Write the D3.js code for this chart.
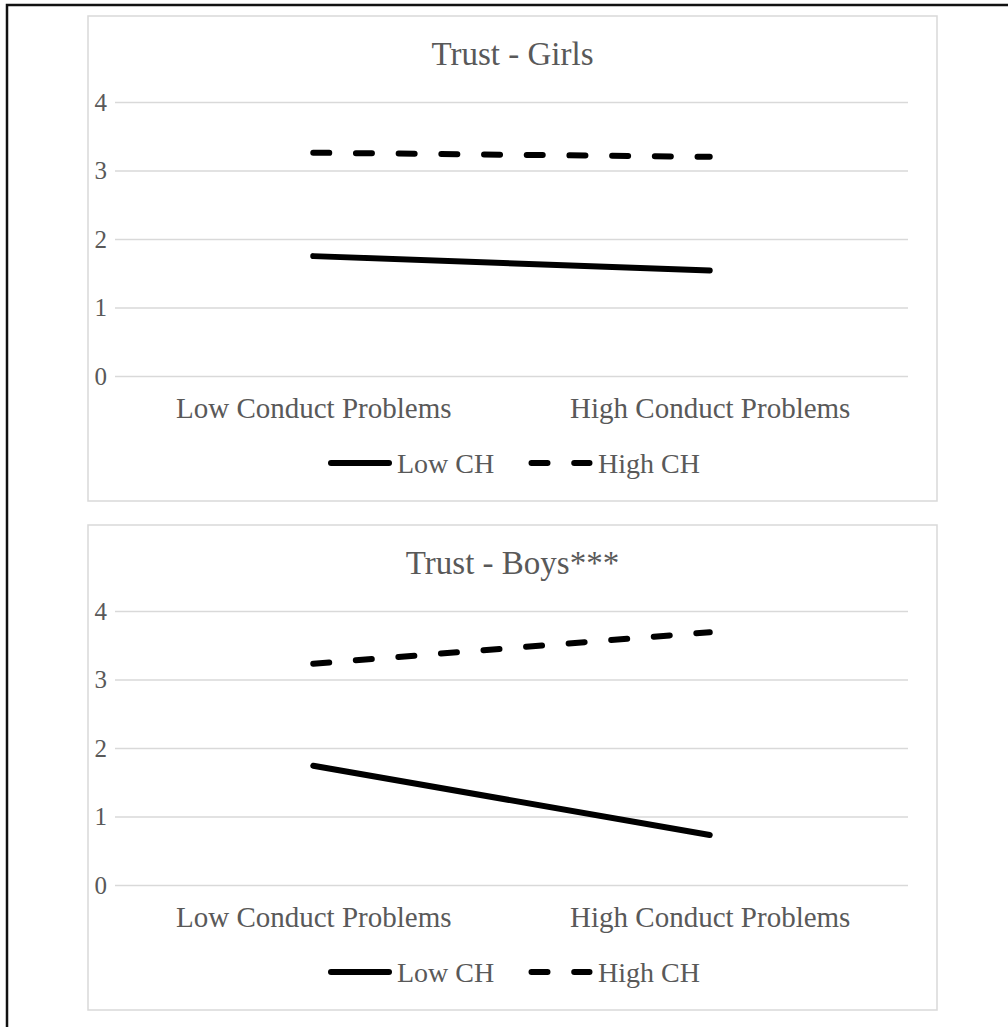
<!DOCTYPE html>
<html>
<head>
<meta charset="utf-8">
<script src="https://cdn.jsdelivr.net/npm/d3@7"></script>
<style>
  body { margin: 0; background: #fff; }
  text { font-family: "Liberation Serif", "Times New Roman", serif; fill: #595959; }
</style>
</head>
<body>
<div id="chart"></div>
<script>
// data
const categories = ["Low Conduct Problems", "High Conduct Problems"];
const yTicks = [0, 1, 2, 3, 4];
const seriesNames = ["Low CH", "High CH"];
const girlsLowCH = [1.75, 1.54];
const girlsHighCH = [3.26, 3.20];
const boysLowCH = [1.74, 0.73];
const boysHighCH = [3.23, 3.69];

const panels = [
  { title: "Trust - Girls", top: 16, low: girlsLowCH, high: girlsHighCH },
  { title: "Trust - Boys***", top: 525, low: boysLowCH, high: boysHighCH }
];

var W = 1008, H = 1027;
var panelLeft = 88, panelW = 849, panelH = 485;
var dash = "16,26.7";

const svg = d3.select("#chart")
  .append("svg")
  .attr("width", W)
  .attr("height", H);

// outer black frame (runs off the page on right/bottom)
svg.append("rect")
  .attr("x", 7).attr("y", 5)
  .attr("width", 1020).attr("height", 1040)
  .attr("fill", "none")
  .attr("stroke", "#111")
  .attr("stroke-width", 2.5);

// scales shared by both panels (panel-local coords)
var x = d3.scalePoint()
  .domain(categories)
  .range([27, 820])
  .padding(0.5);

var y = d3.scaleLinear()
  .domain([0, 4])
  .range([360, 86]);

function drawPanel(p) {
  var g = svg.append("g")
    .attr("transform", "translate(" + panelLeft + "," + p.top + ")");

  g.append("rect")
    .attr("x", 0).attr("y", 0)
    .attr("width", panelW).attr("height", panelH)
    .attr("fill", "#fff")
    .attr("stroke", "#d9d9d9")
    .attr("stroke-width", 1.5);

  g.append("text")
    .attr("x", panelW / 2)
    .attr("y", 49)
    .attr("text-anchor", "middle")
    .attr("font-size", "33px")
    .text(p.title);

  // gridlines + y tick labels
  var yAxis = g.append("g")
    .attr("transform", "translate(27,0)")
    .call(d3.axisLeft(y).tickValues(yTicks).tickSize(-793).tickPadding(8).tickFormat(d3.format("d")));
  yAxis.select(".domain").remove();
  yAxis.selectAll(".tick line").attr("stroke", "#d9d9d9").attr("stroke-width", 1.5);
  yAxis.selectAll(".tick text")
    .attr("font-size", "25px")
    .attr("fill", "#595959");

  // category labels
  var xAxis = g.append("g")
    .attr("transform", "translate(0,360)")
    .call(d3.axisBottom(x).tickSize(0).tickPadding(0));
  xAxis.select(".domain").remove();
  xAxis.selectAll(".tick text")
    .attr("dy", null)
    .attr("y", 42)
    .attr("font-size", "29px")
    .attr("fill", "#595959");

  var line = d3.line()
    .x((d, i) => x(categories[i]))
    .y(d => y(d));

  g.append("path")
    .datum(p.low)
    .attr("d", line)
    .attr("fill", "none")
    .attr("stroke", "#000")
    .attr("stroke-width", 6)
    .attr("stroke-linecap", "round");

  g.append("path")
    .datum(p.high)
    .attr("d", line)
    .attr("fill", "none")
    .attr("stroke", "#000")
    .attr("stroke-width", 6)
    .attr("stroke-linecap", "round")
    .attr("stroke-dasharray", dash);

  // legend
  var leg = g.append("g").attr("transform", "translate(0,447)");
  leg.append("line")
    .attr("x1", 243).attr("x2", 301)
    .attr("stroke", "#000").attr("stroke-width", 6)
    .attr("stroke-linecap", "round");
  leg.append("text")
    .attr("x", 309).attr("y", 10)
    .attr("font-size", "28px")
    .text(seriesNames[0]);
  leg.append("line")
    .attr("x1", 443.5).attr("x2", 501.5)
    .attr("stroke", "#000").attr("stroke-width", 6)
    .attr("stroke-linecap", "round")
    .attr("stroke-dasharray", dash);
  leg.append("text")
    .attr("x", 510).attr("y", 10)
    .attr("font-size", "28px")
    .text(seriesNames[1]);
}

panels.forEach(drawPanel);
</script>
</body>
</html>
